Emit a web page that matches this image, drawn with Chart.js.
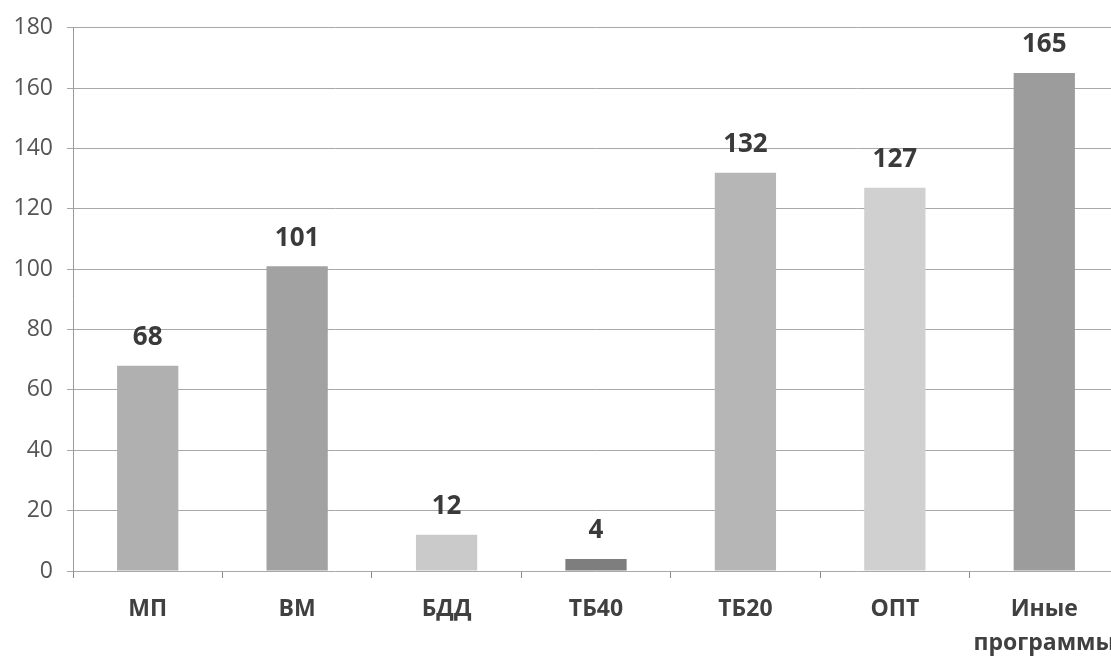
<!DOCTYPE html>
<html>
<head>
<meta charset="utf-8">
<title>Программы</title>
<script src="https://cdn.jsdelivr.net/npm/chart.js@4/dist/chart.umd.min.js"></script>
<style>
    html, body { margin: 0; padding: 0; background: #fff; overflow: hidden; }
    #chart { display: block; width: 1119px; height: 656px; }
</style>
</head>
<body>
<canvas id="chart" width="1119" height="656"></canvas>

<script>

    // data
    const categories = ['МП', 'ВМ', 'БДД', 'ТБ40', 'ТБ20', 'ОПТ', ['Иные', 'программы']]
    const values = [68, 101, 12, 4, 132, 127, 165]
    const barColors = ['#b0b0b0', '#a2a2a2', '#cacaca', '#7e7e7e', '#b6b6b6', '#d0d0d0', '#9c9c9c']
    const yTicks = [0, 20, 40, 60, 80, 100, 120, 140, 160, 180]

    // numbers above the bars
    const valueLabels = {
        id: 'valueLabels',
        afterDatasetsDraw(chart) {
            const ctx = chart.ctx
            const meta = chart.getDatasetMeta(0)
            ctx.save()
            ctx.font = 'bold 26px "Open Sans"'
            ctx.fillStyle = '#3a3a3a'
            ctx.textAlign = 'center'
            ctx.textBaseline = 'middle'
            meta.data.forEach((bar, i) => {
                ctx.fillText(values[i], bar.x, bar.y - 28)
            })
            ctx.restore()
        }
    }

    new Chart(document.getElementById('chart'), {
        type: 'bar',
        data: {
            labels: categories,
            datasets: [{
                data: values,
                backgroundColor: barColors,
                borderWidth: 0,
                barPercentage: 0.41,
                categoryPercentage: 1
            }]
        },
        options: {
            responsive: false,
            animation: false,
            layout: { padding: { top: 24, left: 0, right: 0, bottom: 0 } },
            plugins: {
                legend: { display: false },
                tooltip: { enabled: false }
            },
            scales: {
                x: {
                    afterFit: scale => {
                        scale.height = 85
                        scale.paddingLeft = 0
                        scale.paddingRight = 0
                    },
                    grid: {
                        offset: true,
                        drawOnChartArea: false,
                        drawTicks: true,
                        tickLength: 7,
                        color: '#8a8a8a'
                    },
                    border: { display: false },
                    ticks: {
                        padding: 15,
                        color: '#404040',
                        font: { family: 'Open Sans', size: 23, weight: 'bold', lineHeight: 1.45 },
                        maxRotation: 0,
                        autoSkip: false
                    }
                },
                y: {
                    min: 0,
                    max: 180,
                    afterFit: scale => { scale.width = 73 },
                    afterBuildTicks: scale => { scale.ticks = yTicks.map(v => ({ value: v })) },
                    grid: {
                        color: '#a8a8a8',
                        tickLength: 6,
                        tickColor: '#a8a8a8'
                    },
                    border: { display: true, color: '#9a9a9a', dash: [] },
                    ticks: {
                        padding: 14,
                        color: '#555555',
                        font: { family: 'Open Sans', size: 23 }
                    }
                }
            }
        },
        plugins: [valueLabels]
    })

</script>
</body>
</html>
